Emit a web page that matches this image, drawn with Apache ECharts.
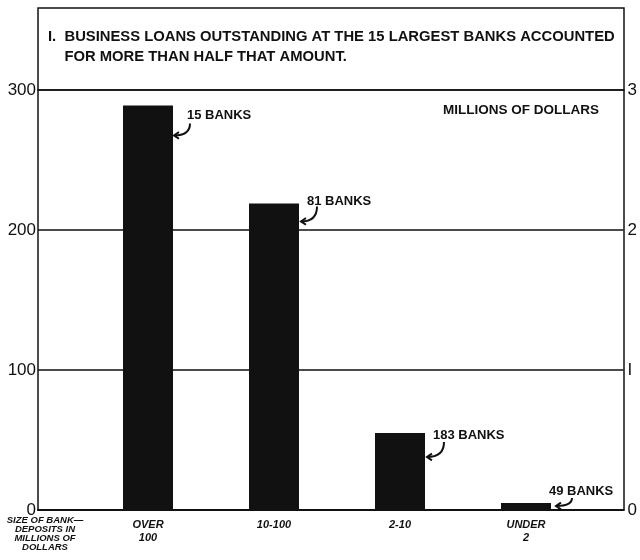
<!DOCTYPE html>
<html>
<head>
<meta charset="utf-8">
<script src="https://cdn.jsdelivr.net/npm/echarts@6/dist/echarts.min.js"></script>
<style>
  html, body { margin: 0; padding: 0; background: #fff; }
  #chart { width: 640px; height: 560px; }
</style>
</head>
<body>
<div id="chart"></div>
<script>
// Data
const categories = ["OVER\n100", "10-100", "2-10", "UNDER\n2"];
const loans = [289, 219, 55, 5];
const bankLabels = ["15 BANKS", "81 BANKS", "183 BANKS", "49 BANKS"];
const leftTicks = [0, 100, 200, 300];
const rightTicks = ["0", "I", "2", "3"];

const chart = echarts.init(document.getElementById("chart"));
const ink = "#111";
const font = "Liberation Sans";
const barW = 50;

// label / arrow placement relative to the bar's top-right corner
const labelShift = [[14, 10], [8, -2], [8, 2], [-2, -12]];
const arrowFrom = [[17, 18], [18, 3], [19, 9], [21, -5]];
const arrowTo = [[1, 30], [2, 18], [2, 24], [5, 3]];

function renderArrow(params, api) {
    const i = params.dataIndex;
    const top = api.coord([api.value(0), api.value(1)]);
    const R = top[0] + barW / 2, T = top[1];
    const x1 = R + arrowFrom[i][0], y1 = T + arrowFrom[i][1];
    const x2 = R + arrowTo[i][0], y2 = T + arrowTo[i][1];
    const cx = x1, cy = y2;
    // arrowhead from the direction control -> tip
    let ang = Math.atan2(y2 - cy, x2 - cx);
    if (x2 === cx && y2 === cy) ang = Math.PI;
    const hl = 6, spread = 0.6;
    const h1 = [x2 - hl * Math.cos(ang - spread), y2 - hl * Math.sin(ang - spread)];
    const h2 = [x2 - hl * Math.cos(ang + spread), y2 - hl * Math.sin(ang + spread)];
    const style = { stroke: ink, lineWidth: 2, fill: null };
    return {
        type: "group",
        children: [
            { type: "bezierCurve", shape: { x1, y1, x2, y2, cpx1: cx, cpy1: cy }, style },
            { type: "polyline", shape: { points: [h1, [x2, y2], h2] }, style }
        ]
    };
}

chart.setOption({
    backgroundColor: "#fff",
    animation: false,
    grid: [
        { left: 38, right: 16, top: 90, bottom: 50 },
        { left: 85, right: 51, top: 90, bottom: 50 }
    ],
    xAxis: [
        {
            gridIndex: 0, type: "value", min: 0, max: 1,
            axisLine: { show: true, lineStyle: { color: ink, width: 2 } },
            axisTick: { show: false }, axisLabel: { show: false }, splitLine: { show: false }
        },
        {
            gridIndex: 1, type: "category", data: categories,
            axisLine: { show: false }, axisTick: { show: false },
            axisLabel: {
                color: ink, fontFamily: font, fontWeight: "bold", fontStyle: "italic",
                fontSize: 11, lineHeight: 13, margin: 8
            }
        }
    ],
    yAxis: [
        {
            gridIndex: 0, type: "value", min: 0, max: 300, interval: 100,
            axisLine: { show: true, lineStyle: { color: ink, width: 1.5 } },
            axisTick: { show: false },
            splitLine: { show: true, lineStyle: { color: ink, width: 1.5 } },
            axisLabel: { color: ink, fontFamily: font, fontSize: 17, margin: 2 }
        },
        {
            gridIndex: 0, type: "value", position: "right", min: 0, max: 300, interval: 100,
            axisLine: { show: true, lineStyle: { color: ink, width: 1.5 } },
            axisTick: { show: false }, splitLine: { show: false },
            axisLabel: {
                color: ink, fontFamily: font, fontSize: 17, margin: 4,
                formatter: (v) => rightTicks[leftTicks.indexOf(v)]
            }
        },
        {
            gridIndex: 1, type: "value", min: 0, max: 300, show: false
        }
    ],
    series: [
        {
            type: "bar",
            xAxisIndex: 1, yAxisIndex: 2,
            data: loans,
            barWidth: barW,
            itemStyle: { color: ink },
            label: {
                show: true,
                position: "right",
                formatter: (p) => bankLabels[p.dataIndex],
                color: ink, fontFamily: font, fontWeight: "bold", fontSize: 13
            },
            labelLayout: (p) => ({
                x: p.rect.x + p.rect.width + labelShift[p.dataIndex][0],
                y: p.rect.y + labelShift[p.dataIndex][1],
                align: "left", verticalAlign: "middle"
            })
        },
        {
            type: "custom",
            xAxisIndex: 1, yAxisIndex: 2,
            data: loans.map((v, i) => [i, v]),
            renderItem: renderArrow,
            silent: true,
            z: 5
        }
    ],
    graphic: [
        {
            type: "rect",
            shape: { x: 38, y: 8, width: 586, height: 82 },
            style: { fill: "none", stroke: ink, lineWidth: 1.5 }
        },
        {
            type: "text", left: 48, top: 27,
            style: {
                text: "I.  BUSINESS LOANS OUTSTANDING AT THE 15 LARGEST BANKS ACCOUNTED\n    FOR MORE THAN HALF THAT AMOUNT.",
                fill: ink, font: "bold 14.8px " + font, lineHeight: 20
            }
        },
        {
            type: "text", left: 443, top: 103,
            style: { text: "MILLIONS OF DOLLARS", fill: ink, font: "bold 13.5px " + font }
        },
        {
            type: "text",
            style: {
                x: 45, y: 516,
                text: "SIZE OF BANK—\nDEPOSITS IN\nMILLIONS OF\nDOLLARS",
                fill: ink, font: "italic bold 9.5px " + font, lineHeight: 9,
                align: "center", verticalAlign: "top"
            }
        }
    ]
});
</script>
</body>
</html>
